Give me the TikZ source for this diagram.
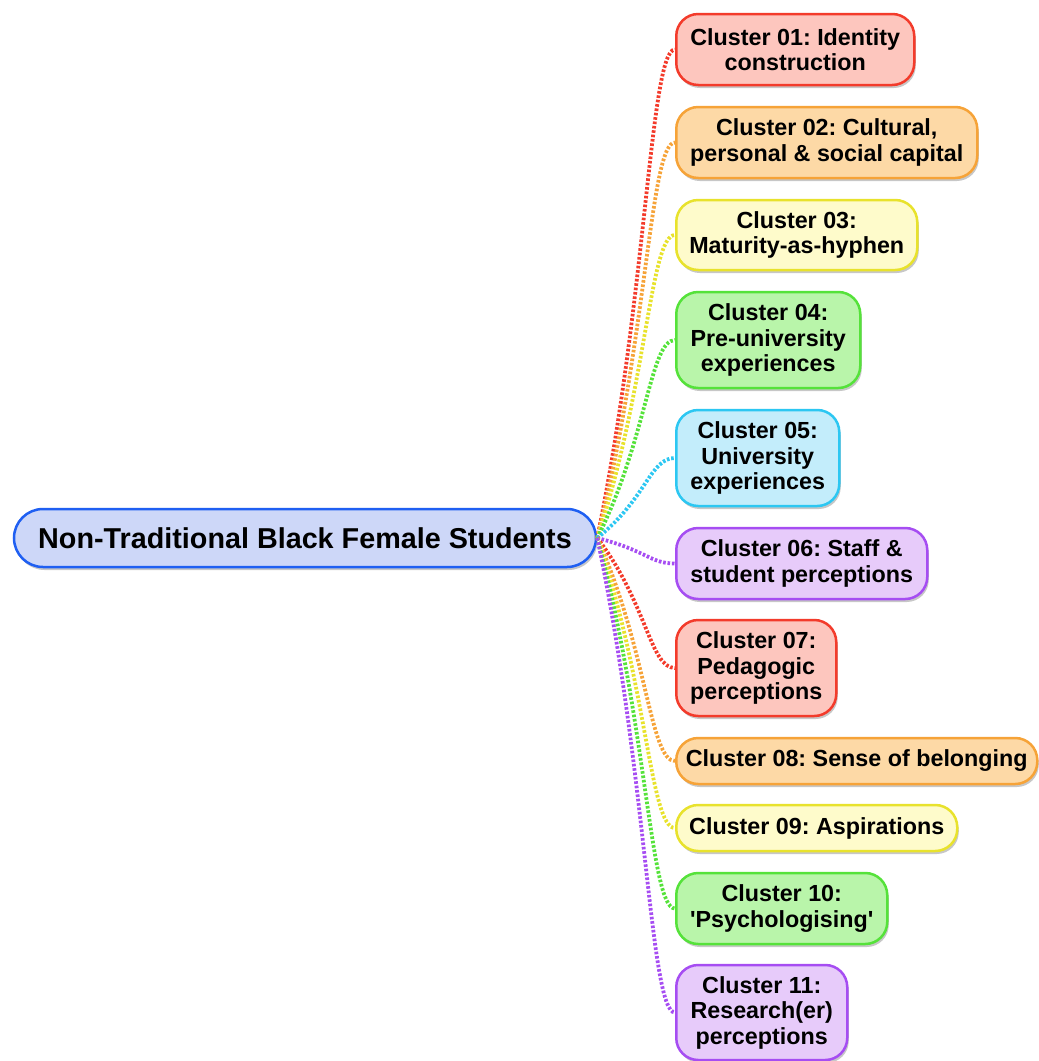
\documentclass[tikz,border=0pt]{standalone}
\usepackage{fontspec}
\setmainfont{Liberation Sans}
\usetikzlibrary{calc,shadows}
\frenchspacing

\definecolor{redB}{HTML}{F33B2B}\definecolor{redF}{HTML}{FDC6BE}
\definecolor{oraB}{HTML}{F6A338}\definecolor{oraF}{HTML}{FDD9A6}
\definecolor{yelB}{HTML}{E8E22C}\definecolor{yelF}{HTML}{FEFBCB}
\definecolor{greB}{HTML}{55E23A}\definecolor{greF}{HTML}{B9F5AA}
\definecolor{cyaB}{HTML}{2CC7F2}\definecolor{cyaF}{HTML}{C3EDFB}
\definecolor{purB}{HTML}{A64DF2}\definecolor{purF}{HTML}{E7CBFA}
\definecolor{bluB}{HTML}{1F5FF2}\definecolor{bluF}{HTML}{CDD7F8}

\tikzset{
  topic/.style={draw, line width=2.5pt, rounded corners=22pt, anchor=west,
    align=center, inner sep=0pt, text=black,
    font=\fontsize{23.3}{25.5}\selectfont\bfseries,
    drop shadow={shadow xshift=1.5pt, shadow yshift=-3pt, fill=black, opacity=0.22}},
  rootnode/.style={topic, rounded corners=29pt, anchor=center,
    font=\fontsize{28.75}{30}\selectfont\bfseries},
  conn/.style={line width=3.8pt, dash pattern=on 2.6pt off 1.8pt},
}

\begin{document}
\begin{tikzpicture}[x=1pt,y=-1pt]
\path[use as bounding box] (0,0) rectangle (1039,1061);

% central topic
\node[rootnode, fill=bluF, draw=bluB, minimum width=582pt, minimum height=58pt]
  (root) at (305,538) {Non-Traditional Black Female Students};

% cluster topics
\node[topic, fill=redF, draw=redB, minimum width=238pt, minimum height=71pt] (c01) at (675,49.5) {Cluster 01: Identity\\construction};
\node[topic, fill=oraF, draw=oraB, minimum width=301pt, minimum height=71pt] (c02) at (675,142.5) {Cluster 02: Cultural,\\personal \& social capital};
\node[topic, fill=yelF, draw=yelB, minimum width=241pt, minimum height=70pt] (c03) at (675,235) {Cluster 03:\\Maturity-as-hyphen};
\node[topic, fill=greF, draw=greB, minimum width=184pt, minimum height=96pt] (c04) at (675,340) {Cluster 04:\\Pre-university\\experiences};
\node[topic, fill=cyaF, draw=cyaB, minimum width=163pt, minimum height=96pt] (c05) at (675,458) {Cluster 05:\\University\\experiences};
\node[topic, fill=purF, draw=purB, minimum width=251pt, minimum height=71pt] (c06) at (675,563.5) {Cluster 06: Staff \&\\student perceptions};
\node[topic, fill=redF, draw=redB, minimum width=160pt, minimum height=96pt] (c07) at (675,668) {Cluster 07:\\Pedagogic\\perceptions};
\node[topic, fill=oraF, draw=oraB, minimum width=361pt, minimum height=46pt] (c08) at (675,761) {Cluster 08: Sense of belonging};
\node[topic, fill=yelF, draw=yelB, minimum width=281pt, minimum height=46pt] (c09) at (675,828) {Cluster 09: Aspirations};
\node[topic, fill=greF, draw=greB, minimum width=211pt, minimum height=71pt] (c10) at (675,908.5) {Cluster 10:\\\textquotesingle Psychologising\textquotesingle};
\node[topic, fill=purF, draw=purB, minimum width=171pt, minimum height=95pt] (c11) at (675,1012.5) {Cluster 11:\\Research(er)\\perceptions};

% dotted branches from the central topic
\foreach \tgt/\col in {c01/redB, c02/oraB, c03/yelB, c04/greB, c05/cyaB, c06/purB,
                       c07/redB, c08/oraB, c09/yelB, c10/greB, c11/purB}{
  \draw[conn, \col] let \p1=(root.east), \p2=(\tgt.west) in
    (\p1) .. controls (\x1+50pt, {\y1+0.5*(\y2-\y1)}) and (\x2-25pt,\y2) .. (\p2);
}
\end{tikzpicture}
\end{document}
